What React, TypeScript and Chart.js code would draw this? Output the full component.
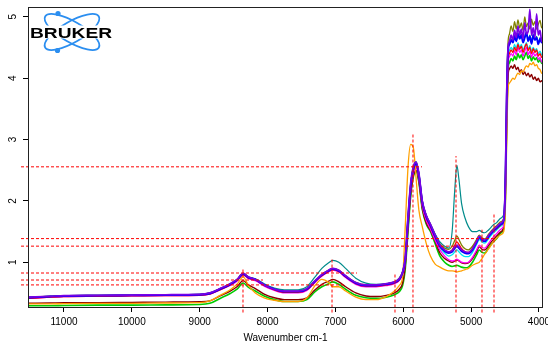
import React, { useEffect, useRef } from 'react';
import { Chart, registerables } from 'chart.js';

Chart.register(...registerables);

// ---- data ----
const wavenumbers = [
  11530, 11200, 11000, 10500, 10000, 9500, 9000, 8850, 8700, 8550, 8450,
  8360, 8280, 8180, 8050, 7900, 7750, 7550, 7420, 7300, 7200, 7100,
  7040, 6950, 6850, 6700, 6550, 6400, 6250, 6130, 6060, 6010, 5970,
  5930, 5890, 5850, 5810, 5770, 5720, 5660, 5600, 5530, 5460, 5390,
  5330, 5280, 5240, 5210, 5180, 5140, 5090, 5040, 4980, 4920, 4880,
  4840, 4800, 4740, 4680, 4620, 4560, 4520, 4495, 4475, 4455,
  4435, 4410, 4385, 4360, 4335, 4310, 4285, 4260, 4235, 4210, 4185, 4160, 4135, 4110, 4085, 4060, 4035, 4010, 3985, 3960, 3941,
];

const blueSeries = [
  0.42, 0.44, 0.45, 0.455, 0.46, 0.465, 0.47, 0.49, 0.56, 0.64, 0.71,
  0.81, 0.75, 0.72, 0.63, 0.56, 0.52, 0.52, 0.56, 0.69, 0.79, 0.86,
  0.89, 0.86, 0.77, 0.66, 0.62, 0.62, 0.64, 0.67, 0.72, 0.83, 1.05,
  1.7, 2.25, 2.52, 2.6, 2.42, 1.98, 1.74, 1.6, 1.42, 1.26, 1.18,
  1.15, 1.17, 1.23, 1.26, 1.23, 1.18, 1.15, 1.14, 1.2, 1.32, 1.4,
  1.36, 1.34, 1.42, 1.5, 1.56, 1.62, 1.68, 2.3, 3.7, 4.45,
  4.55, 4.62, 4.58, 4.68, 4.6, 4.72, 4.64, 4.7, 4.58, 4.66, 4.74, 4.6, 4.68, 4.56, 4.7, 4.62, 4.66, 4.55, 4.64, 4.58, 4.6,
];
const purpleSeries = [
  0.43, 0.445, 0.455, 0.46, 0.465, 0.47, 0.475, 0.5, 0.57, 0.65, 0.72,
  0.82, 0.76, 0.72, 0.63, 0.56, 0.53, 0.53, 0.57, 0.7, 0.8, 0.87,
  0.9, 0.87, 0.78, 0.67, 0.63, 0.63, 0.65, 0.68, 0.73, 0.84, 1.08,
  1.75, 2.3, 2.56, 2.63, 2.45, 2.0, 1.76, 1.62, 1.44, 1.28, 1.2,
  1.17, 1.19, 1.25, 1.28, 1.25, 1.2, 1.17, 1.16, 1.22, 1.34, 1.42,
  1.38, 1.36, 1.44, 1.52, 1.58, 1.64, 1.7, 2.35, 3.8, 4.5,
  4.6, 4.7, 4.62, 4.78, 4.66, 4.85, 4.7, 4.8, 4.64, 4.9, 4.72, 4.76, 5.12, 4.7, 4.82, 4.66, 5.05, 4.7, 4.78, 4.6, 4.68,
];
const redSeries = [
  0.41, 0.43, 0.44, 0.445, 0.45, 0.455, 0.46, 0.48, 0.55, 0.63, 0.7,
  0.8, 0.74, 0.71, 0.62, 0.55, 0.51, 0.51, 0.55, 0.68, 0.78, 0.85,
  0.88, 0.85, 0.76, 0.65, 0.61, 0.61, 0.63, 0.66, 0.71, 0.82, 1.04,
  1.68, 2.22, 2.5, 2.57, 2.4, 1.96, 1.72, 1.58, 1.41, 1.26, 1.19,
  1.17, 1.2, 1.28, 1.33, 1.29, 1.22, 1.17, 1.16, 1.22, 1.34, 1.41,
  1.37, 1.35, 1.43, 1.5, 1.55, 1.61, 1.67, 2.25, 3.6, 4.3,
  4.4, 4.46, 4.42, 4.5, 4.44, 4.55, 4.47, 4.52, 4.42, 4.5, 4.56, 4.45, 4.5, 4.4, 4.48, 4.42, 4.46, 4.36, 4.4, 4.34, 4.36,
];
const oliveSeries = [
  0.43, 0.445, 0.455, 0.46, 0.465, 0.47, 0.475, 0.5, 0.57, 0.65, 0.72,
  0.82, 0.76, 0.72, 0.63, 0.56, 0.53, 0.53, 0.57, 0.7, 0.8, 0.87,
  0.9, 0.87, 0.78, 0.67, 0.63, 0.63, 0.65, 0.68, 0.74, 0.85, 1.07,
  1.72, 2.28, 2.55, 2.62, 2.44, 2.0, 1.76, 1.62, 1.45, 1.3, 1.23,
  1.21, 1.26, 1.36, 1.43, 1.37, 1.28, 1.22, 1.2, 1.26, 1.37, 1.44,
  1.4, 1.38, 1.46, 1.54, 1.6, 1.66, 1.72, 2.4, 3.9, 4.6,
  4.72, 4.85, 4.76, 4.92, 4.8, 4.95, 4.82, 4.9, 4.78, 5.0, 4.84, 4.9, 4.8, 4.96, 4.86, 4.92, 4.8, 4.88, 4.94, 4.82, 4.86,
];
const magentaSeries = [
  0.41, 0.43, 0.44, 0.445, 0.45, 0.455, 0.46, 0.48, 0.55, 0.62, 0.69,
  0.79, 0.73, 0.7, 0.61, 0.54, 0.5, 0.5, 0.54, 0.67, 0.77, 0.84,
  0.87, 0.84, 0.75, 0.64, 0.6, 0.6, 0.62, 0.65, 0.7, 0.8, 1.0,
  1.62, 2.18, 2.46, 2.54, 2.36, 1.92, 1.68, 1.54, 1.36, 1.2, 1.1,
  1.04, 1.02, 1.03, 1.05, 1.03, 1.0, 0.99, 1.0, 1.08, 1.2, 1.28,
  1.24, 1.23, 1.31, 1.4, 1.47, 1.54, 1.6, 2.2, 3.5, 4.25,
  4.35, 4.4, 4.36, 4.45, 4.38, 4.5, 4.42, 4.46, 4.36, 4.44, 4.5, 4.38, 4.44, 4.34, 4.42, 4.36, 4.4, 4.3, 4.34, 4.26, 4.3,
];
const cyanSeries = [
  0.42, 0.44, 0.45, 0.455, 0.46, 0.465, 0.47, 0.49, 0.56, 0.64, 0.71,
  0.81, 0.75, 0.72, 0.63, 0.56, 0.52, 0.52, 0.56, 0.69, 0.79, 0.86,
  0.89, 0.86, 0.77, 0.66, 0.62, 0.62, 0.64, 0.67, 0.72, 0.83, 1.05,
  1.7, 2.24, 2.51, 2.58, 2.4, 1.97, 1.73, 1.59, 1.41, 1.24, 1.15,
  1.1, 1.12, 1.17, 1.2, 1.17, 1.12, 1.09, 1.09, 1.16, 1.29, 1.37,
  1.33, 1.31, 1.39, 1.47, 1.53, 1.59, 1.65, 2.25, 3.6, 4.35,
  4.45, 4.5, 4.46, 4.55, 4.48, 4.58, 4.5, 4.55, 4.46, 4.52, 4.58, 4.47, 4.53, 4.44, 4.5, 4.45, 4.48, 4.4, 4.44, 4.38, 4.4,
];
const greenSeries = [
  0.29, 0.29, 0.295, 0.3, 0.3, 0.305, 0.31, 0.33, 0.41, 0.49, 0.56,
  0.66, 0.59, 0.53, 0.45, 0.39, 0.36, 0.36, 0.39, 0.52, 0.6, 0.65,
  0.68, 0.64, 0.56, 0.46, 0.42, 0.41, 0.43, 0.47, 0.52, 0.62, 0.9,
  1.5, 2.08, 2.4, 2.48, 2.3, 1.86, 1.62, 1.5, 1.3, 1.1, 1.0,
  0.95, 0.93, 0.94, 0.95, 0.94, 0.92, 0.91, 0.92, 1.0, 1.12, 1.2,
  1.16, 1.15, 1.24, 1.32, 1.39, 1.48, 1.55, 2.05, 3.3, 4.15,
  4.25, 4.32, 4.28, 4.36, 4.3, 4.4, 4.33, 4.38, 4.3, 4.36, 4.42, 4.32, 4.37, 4.28, 4.35, 4.3, 4.33, 4.26, 4.3, 4.24, 4.26,
];
const maroonSeries = [
  0.33, 0.335, 0.34, 0.34, 0.345, 0.35, 0.355, 0.37, 0.45, 0.53, 0.6,
  0.7, 0.63, 0.57, 0.48, 0.42, 0.39, 0.39, 0.42, 0.55, 0.64, 0.69,
  0.72, 0.68, 0.6, 0.5, 0.45, 0.44, 0.46, 0.5, 0.56, 0.66, 0.95,
  1.55, 2.12, 2.42, 2.5, 2.32, 1.88, 1.64, 1.52, 1.34, 1.15, 1.06,
  1.02, 1.0, 1.02, 1.04, 1.02, 0.99, 0.98, 0.99, 1.06, 1.17, 1.25,
  1.21, 1.2, 1.28, 1.36, 1.43, 1.5, 1.57, 2.05, 3.3, 4.05,
  4.15, 4.2, 4.16, 4.22, 4.14, 4.18, 4.1, 4.14, 4.06, 4.1, 4.04, 4.08, 4.02, 4.06, 3.98, 4.02, 3.96, 4.0, 3.94, 3.96, 3.92,
];
const orangeSeries = [
  0.32, 0.32, 0.325, 0.33, 0.33, 0.335, 0.34, 0.37, 0.46, 0.55, 0.64,
  0.76, 0.62, 0.5, 0.42, 0.38, 0.36, 0.36, 0.42, 0.62, 0.72, 0.67,
  0.6, 0.6, 0.53, 0.43, 0.39, 0.39, 0.44, 0.53, 0.62, 0.76, 1.6,
  2.55, 2.92, 2.86, 2.35, 1.85, 1.58, 1.3, 1.1, 0.97, 0.92, 0.88,
  0.86, 0.86, 0.85, 0.84, 0.85, 0.86, 0.88, 0.9, 0.95, 0.98, 1.0,
  1.06, 1.13, 1.22, 1.32, 1.4, 1.45, 1.5, 1.9, 3.0, 3.85,
  3.92, 3.96, 4.0, 3.98, 4.04, 4.08, 4.06, 4.12, 4.1, 4.16, 4.2, 4.18, 4.24, 4.22, 4.26, 4.2, 4.22, 4.16, 4.14, 4.08, 4.1,
];
const tealSeries = [
  0.43, 0.445, 0.455, 0.46, 0.465, 0.47, 0.475, 0.5, 0.57, 0.64, 0.71,
  0.8, 0.75, 0.73, 0.65, 0.58, 0.55, 0.55, 0.6, 0.76, 0.9, 0.99,
  1.03, 1.0, 0.9, 0.74, 0.66, 0.64, 0.65, 0.68, 0.73, 0.84, 1.06,
  1.72, 2.28, 2.56, 2.64, 2.45, 2.0, 1.76, 1.62, 1.46, 1.33, 1.26,
  1.23, 1.5, 2.2, 2.58, 2.35, 1.95, 1.72, 1.58, 1.5, 1.5, 1.52,
  1.49, 1.48, 1.53, 1.6, 1.65, 1.72, 1.78, 2.4, 3.8, 4.5,
  4.58, 4.64, 4.6, 4.7, 4.62, 4.74, 4.66, 4.72, 4.6, 4.68, 4.75, 4.62, 4.7, 4.58, 4.72, 4.64, 4.68, 4.57, 4.66, 4.6, 4.62,
];

// peak marker lines
const peakX = [8362, 7050, 6122, 5857, 5223, 4840, 4663];
const peakTop = [0.91, 1.07, 0.82, 3.11, 2.73, 1.53, 1.8];
const levelY = [2.555, 1.385, 1.262, 0.824, 0.71, 0.63];
const levelEnd = [5724, 4663, 5223, 6682, 8067, 6880];
const levelStart = 11633;
const peakBottom = 0.18;

const xTicks = [11000, 10000, 9000, 8000, 7000, 6000, 5000, 4000];
const yTicks = [1, 2, 3, 4, 5];
const xMin = 3941;
const xMax = 11530;
const yMin = 0.27;
const yMax = 5.16;

const spectra = [
  { label: 'S1', color: '#7a00e6', width: 1.7, values: purpleSeries },
  { label: 'S2', color: '#0000ff', width: 1.9, values: blueSeries },
  { label: 'S3', color: '#008b8b', width: 1.2, values: tealSeries },
  { label: 'S4', color: '#ffa000', width: 1.3, values: orangeSeries },
  { label: 'S5', color: '#ff0000', width: 1.3, values: redSeries },
  { label: 'S6', color: '#808000', width: 1.3, values: oliveSeries },
  { label: 'S7', color: '#ff00ff', width: 1.3, values: magentaSeries },
  { label: 'S8', color: '#00e5ee', width: 1.3, values: cyanSeries },
  { label: 'S9', color: '#8b0000', width: 1.4, values: maroonSeries },
  { label: 'S10', color: '#00cc00', width: 1.6, values: greenSeries },
];

const FONT = '"Liberation Sans", Arial, Helvetica, sans-serif';

const framePlugin = {
  id: 'frame',
  afterDraw(chart: any) {
    const { ctx, chartArea } = chart;
    ctx.save();
    ctx.strokeStyle = '#222';
    ctx.lineWidth = 1;
    const l = Math.round(chartArea.left) + 0.5;
    const t = Math.round(chartArea.top) + 0.5;
    const r = Math.round(chartArea.right) - 0.5;
    const b = Math.round(chartArea.bottom) + 0.5;
    ctx.strokeRect(l, t, r - l, b - t);

    // BRUKER logo
    ctx.strokeStyle = '#2b8ef0';
    ctx.lineWidth = 1.8;
    ctx.beginPath();
    ctx.ellipse(72, 32, 31, 10.5, Math.PI / 6, 0, Math.PI * 2);
    ctx.stroke();
    ctx.beginPath();
    ctx.ellipse(72, 32, 31, 10.5, -Math.PI / 6, 0, Math.PI * 2);
    ctx.stroke();
    ctx.fillStyle = '#2b8ef0';
    ctx.beginPath();
    ctx.arc(58, 13.5, 2.6, 0, Math.PI * 2);
    ctx.fill();
    ctx.beginPath();
    ctx.arc(57.5, 50.5, 2.6, 0, Math.PI * 2);
    ctx.fill();
    ctx.fillStyle = '#ffffff';
    ctx.fillRect(29.5, 25.5, 84, 13);
    ctx.fillStyle = '#000';
    ctx.font = 'bold 14px ' + FONT;
    ctx.textBaseline = 'alphabetic';
    ctx.textAlign = 'left';
    ctx.translate(30, 37.5);
    ctx.scale(1.37, 1);
    ctx.fillText('BRUKER', 0, 0);
    ctx.restore();
  },
};

export default function App() {
  const ref = useRef<HTMLCanvasElement | null>(null);

  useEffect(() => {
    if (!ref.current) return;
    const markerStyle = {
      borderColor: '#ff0000',
      borderWidth: 1,
      borderDash: [3, 2],
      pointRadius: 0,
      fill: false,
      clip: false as any,
      tension: 0,
    };
    const verticals = peakX.map((x, i) => ({
      ...markerStyle,
      label: 'v' + i,
      data: [
        { x, y: peakBottom },
        { x, y: peakTop[i] },
      ],
    }));
    const horizontals = levelY.map((y, i) => ({
      ...markerStyle,
      label: 'h' + i,
      data: [
        { x: levelStart, y },
        { x: levelEnd[i], y },
      ],
    }));
    const lines = spectra.map((s) => ({
      label: s.label,
      data: wavenumbers.map((x, i) => ({ x, y: s.values[i] })),
      borderColor: s.color,
      backgroundColor: s.color,
      borderWidth: s.width,
      pointRadius: 0,
      fill: false,
      cubicInterpolationMode: 'monotone' as const,
    }));

    const chart = new Chart(ref.current, {
      type: 'line',
      data: { datasets: [...verticals, ...horizontals, ...lines] as any },
      options: {
        animation: false,
        responsive: true,
        maintainAspectRatio: false,
        layout: { padding: { left: 0, right: 5, top: 7, bottom: 0 } },
        plugins: {
          legend: { display: false },
          tooltip: { enabled: false },
        },
        events: [],
        scales: {
          x: {
            type: 'linear',
            reverse: true,
            min: xMin,
            max: xMax,
            afterBuildTicks: (s: any) => {
              s.ticks = xTicks.map((v) => ({ value: v }));
            },
            afterFit: (s: any) => {
              s.height = 40;
              s.paddingLeft = 0;
              s.paddingRight = 0;
            },
            grid: {
              drawOnChartArea: false,
              drawTicks: true,
              tickLength: 5,
              color: '#000',
              lineWidth: 1,
            },
            border: { display: false },
            ticks: {
              font: { family: FONT, size: 10 },
              color: '#000',
              padding: 4,
              maxRotation: 0,
              minRotation: 0,
              autoSkip: false,
              callback: (v: any) => String(v),
            },
            title: {
              display: true,
              text: 'Wavenumber cm-1',
              font: { family: FONT, size: 10 },
              color: '#000',
              padding: { top: 0, bottom: 3 },
            },
          },
          y: {
            type: 'linear',
            min: yMin,
            max: yMax,
            afterBuildTicks: (s: any) => {
              s.ticks = yTicks.map((v) => ({ value: v }));
            },
            afterFit: (s: any) => {
              s.width = 28;
              s.paddingTop = 0;
              s.paddingBottom = 0;
            },
            grid: {
              drawOnChartArea: false,
              drawTicks: true,
              tickLength: 5,
              color: '#000',
              lineWidth: 1,
            },
            border: { display: false },
            ticks: {
              font: { family: FONT, size: 10 },
              color: '#000',
              padding: 7,
              minRotation: 90,
              maxRotation: 90,
              crossAlign: 'center',
              autoSkip: false,
              callback: (v: any) => String(v),
            },
          },
        },
      },
      plugins: [framePlugin],
    });
    return () => chart.destroy();
  }, []);

  return (
    <div
      style={{
        position: 'fixed',
        left: 0,
        top: 0,
        width: 548,
        height: 347,
        background: '#fff',
      }}
    >
      <canvas ref={ref} />
    </div>
  );
}
